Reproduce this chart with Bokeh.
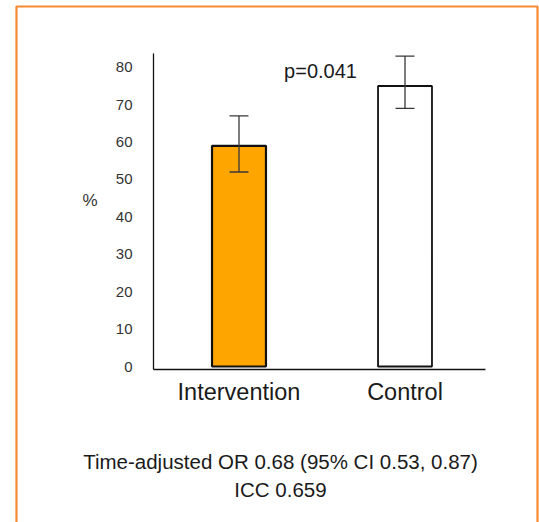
from bokeh.plotting import figure
from bokeh.models import (Range1d, FixedTicker, Whisker, TeeHead, ColumnDataSource,
                          Label, BoxAnnotation)
from bokeh.embed import file_html
from bokeh.resources import INLINE

# ---- data ----
categories = ["Intervention", "Control"]
percent = [59, 75]
ci_lower = [52, 69]
ci_upper = [67, 83]
bar_fill = ["#FFA500", "#FFFFFF"]
bar_outline_width = [2.2, 1.8]
y_ticks = [0, 10, 20, 30, 40, 50, 60, 70, 80]
p_value_text = "p=0.041"
footnote_lines = ["Time-adjusted OR 0.68 (95% CI 0.53, 0.87)", "ICC 0.659"]
y_label = "%"

FONT = "Liberation Sans"

x = [i + 1 for i in range(len(categories))]
src = ColumnDataSource(dict(x=x, top=percent, lower=ci_lower, upper=ci_upper,
                            fill=bar_fill, lw=bar_outline_width))

# the frame covers the whole canvas; axes are placed inside it
p = figure(width=539, height=522, output_backend="svg", toolbar_location=None,
           x_range=Range1d(-0.4367, 2.8102), y_range=Range1d(-41.71, 97.86),
           min_border=0, min_border_left=0, min_border_right=0,
           min_border_top=0, min_border_bottom=0)
p.outline_line_color = None
p.grid.visible = False
p.background_fill_color = "white"
p.border_fill_color = "white"

# orange border
p.add_layout(BoxAnnotation(left=-0.3404, right=2.7982, top=96.26, bottom=-60,
                           fill_color=None, fill_alpha=0,
                           line_color="#F68A32", line_alpha=1.0, line_width=2.2,
                           level="underlay"))

p.vbar(x="x", top="top", bottom=0, width=0.325, fill_color="fill",
       line_color="#111111", line_width="lw", source=src)

p.add_layout(Whisker(source=src, base="x", upper="upper", lower="lower",
                     line_color="#383838", line_width=1.3, level="overlay",
                     upper_head=TeeHead(size=19, line_color="#383838", line_width=1.3),
                     lower_head=TeeHead(size=19, line_color="#383838", line_width=1.3)))

# axes
yax = p.yaxis[0]
yax.fixed_location = 0.4849
yax.bounds = (-0.8, 83.7)
yax.ticker = FixedTicker(ticks=y_ticks)
yax.major_tick_line_color = None
yax.minor_tick_line_color = None
yax.axis_line_color = "#111111"
yax.axis_line_width = 1.3
yax.major_label_standoff = 15
yax.major_label_text_font = FONT
yax.major_label_text_font_size = "15px"
yax.major_label_text_color = "#333333"

xax = p.xaxis[0]
xax.fixed_location = -0.8
xax.bounds = (0.4849, 2.485)
xax.ticker = FixedTicker(ticks=x)
xax.major_label_overrides = {xi: c for xi, c in zip(x, categories)}
xax.major_tick_line_color = None
xax.minor_tick_line_color = None
xax.axis_line_color = "#111111"
xax.axis_line_width = 1.3
xax.major_label_standoff = 4
xax.major_label_text_font = FONT
xax.major_label_text_font_size = "23.5px"
xax.major_label_text_color = "#1a1a1a"

# texts
p.add_layout(Label(x=0.1024, y=44.4, text=y_label, text_align="center",
                   text_baseline="middle", text_font=FONT, text_font_size="17px",
                   text_color="#333333"))
p.add_layout(Label(x=1.491, y=79.0, text=p_value_text, text_align="center",
                   text_baseline="middle", text_font=FONT, text_font_size="20px",
                   text_color="#1a1a1a"))
for yv, t in zip([-25.4, -32.9], footnote_lines):
    p.add_layout(Label(x=1.25, y=yv, text=t, text_align="center",
                       text_baseline="middle", text_font=FONT, text_font_size="20.5px",
                       text_color="#1a1a1a"))

open("out.html", "w").write(file_html(p, INLINE))
